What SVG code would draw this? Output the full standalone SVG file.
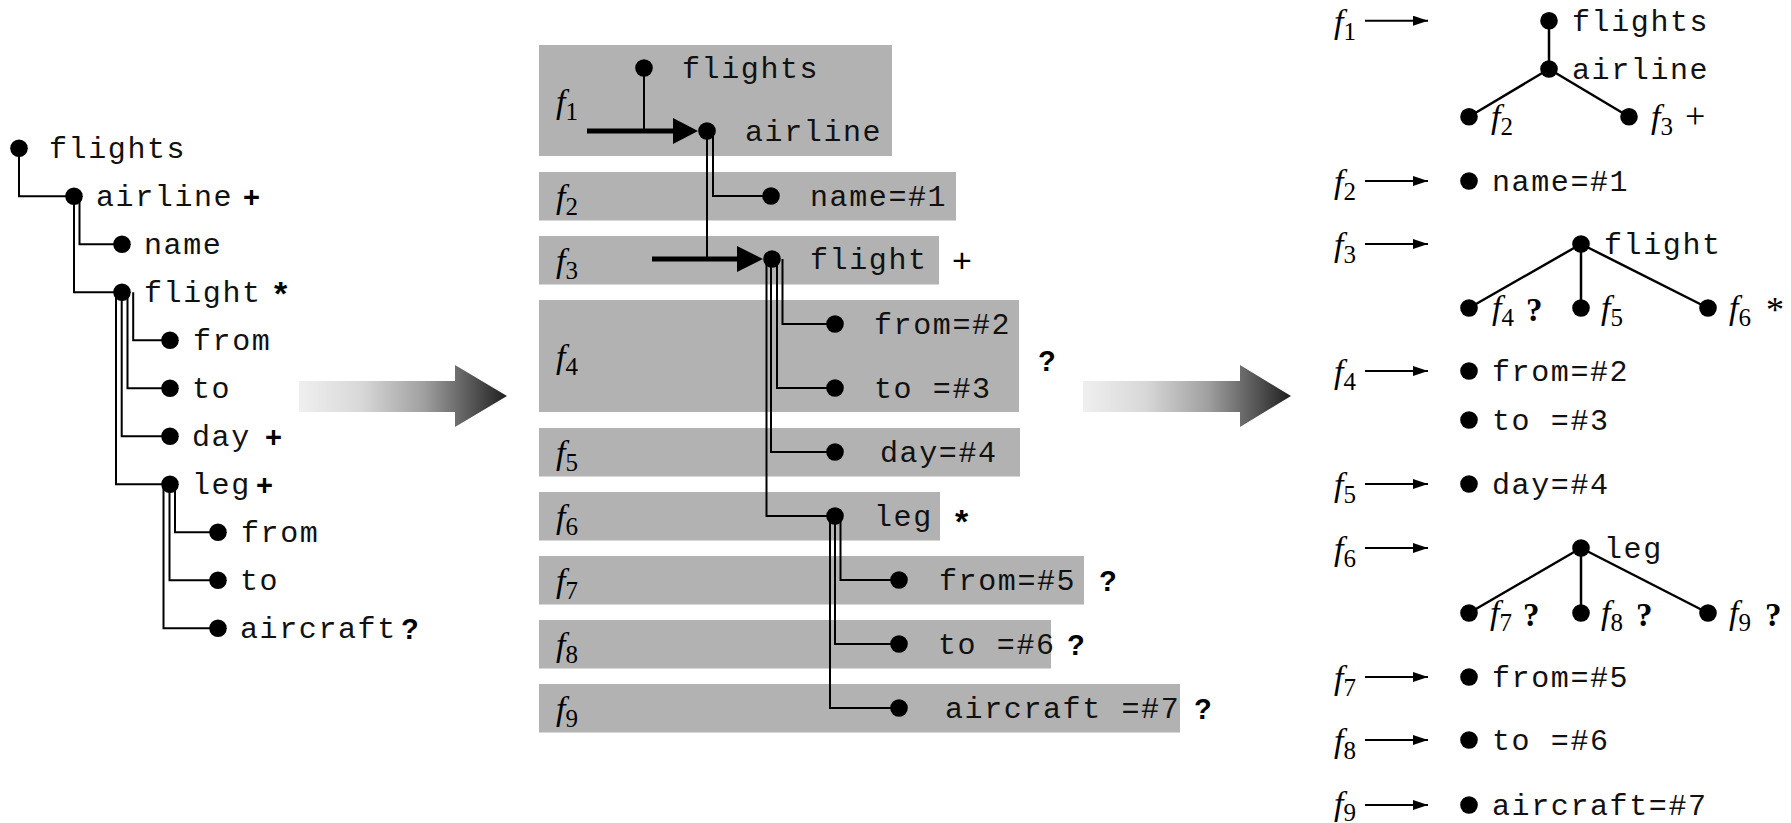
<svg xmlns="http://www.w3.org/2000/svg" width="1791" height="823" viewBox="0 0 1791 823">
<style>
.mono{font-family:"Liberation Mono","Courier New",monospace;font-size:30px;letter-spacing:1.6px;fill:#111}
.fi{font-family:"Liberation Serif","Times New Roman",serif;font-style:italic;font-size:34px;fill:#000}
.sub{font-style:normal;font-size:25px}
.mk{font-family:"Liberation Sans",Arial,sans-serif;font-weight:bold;font-size:29px;fill:#000}
.mkst{font-family:"Liberation Sans",Arial,sans-serif;font-weight:bold;font-size:34px;fill:#000}
.mkr{font-family:"Liberation Sans",Arial,sans-serif;font-size:34px;fill:#000}
.mks{font-family:"Liberation Serif","Times New Roman",serif;font-size:36px;fill:#000}
.mksb{font-family:"Liberation Serif","Times New Roman",serif;font-weight:bold;font-size:33px;fill:#000}
.ln{stroke:#000;stroke-width:2;fill:none}
.tl{stroke:#000;stroke-width:2.5;fill:none}
.thick{stroke:#000;stroke-width:5;fill:none}
.box{fill:#b2b2b2}
.dot{fill:#000}
.ar{stroke:#000;stroke-width:2;fill:none;marker-end:url(#ah)}
</style>
<defs>
<linearGradient id="grad" x1="0" y1="0" x2="1" y2="0">
<stop offset="0" stop-color="#efefef"/>
<stop offset="0.3" stop-color="#d8d8d8"/>
<stop offset="0.6" stop-color="#a0a0a0"/>
<stop offset="0.8" stop-color="#606060"/>
<stop offset="1" stop-color="#202020"/>
</linearGradient>
<marker id="ah" markerUnits="userSpaceOnUse" markerWidth="16" markerHeight="10" refX="15" refY="5" orient="auto">
<path d="M0,0 L15,5 L0,10 z" fill="#000"/>
</marker>
</defs>

<!-- big transformation arrows -->
<g id="bigarrows">
<polygon points="299,381 455,381 455,365 507,396 455,427 455,412 299,412" fill="url(#grad)"/>
<polygon points="1083,381 1240,381 1240,365 1291,396 1240,427 1240,412 1083,412" fill="url(#grad)"/>
</g>

<!-- LEFT TREE -->
<g id="left-connectors">
<path class="ln" d="M19,148.3 V196.3 H74"/>
<path class="ln" d="M74,196.3 V292.3 H122"/>
<path class="ln" d="M79.5,196.3 V244.3 H122"/>
<path class="ln" d="M116,292.3 V484.3 H170"/>
<path class="ln" d="M121.7,292.3 V436.3 H170"/>
<path class="ln" d="M127.5,292.3 V388.3 H170"/>
<path class="ln" d="M133.2,292.3 V340.3 H170"/>
<path class="ln" d="M163.5,484.3 V628.3 H218"/>
<path class="ln" d="M169.5,484.3 V580.3 H218"/>
<path class="ln" d="M175,484.3 V532.3 H218"/>
</g>
<g id="l-flights"><circle class="dot" cx="19" cy="148.3" r="8.8"/><text class="mono" x="49" y="158">flights</text></g>
<g id="l-airline"><circle class="dot" cx="74" cy="196.3" r="8.8"/><text class="mono" x="96" y="206">airline</text><text class="mk" x="243" y="206.5">+</text></g>
<g id="l-name"><circle class="dot" cx="122" cy="244.3" r="8.8"/><text class="mono" x="144" y="254">name</text></g>
<g id="l-flight"><circle class="dot" cx="122" cy="292.3" r="8.8"/><text class="mono" x="144" y="302">flight</text><text class="mkst" x="274" y="305">*</text></g>
<g id="l-from"><circle class="dot" cx="170" cy="340.3" r="8.8"/><text class="mono" x="193" y="350">from</text></g>
<g id="l-to"><circle class="dot" cx="170" cy="388.3" r="8.8"/><text class="mono" x="192" y="398">to</text></g>
<g id="l-day"><circle class="dot" cx="170" cy="436.3" r="8.8"/><text class="mono" x="192" y="446">day</text><text class="mk" x="265" y="446.5">+</text></g>
<g id="l-leg"><circle class="dot" cx="170" cy="484.3" r="8.8"/><text class="mono" x="192" y="494">leg</text><text class="mk" x="256" y="494.5">+</text></g>
<g id="l-from2"><circle class="dot" cx="218" cy="532.3" r="8.8"/><text class="mono" x="241" y="542">from</text></g>
<g id="l-to2"><circle class="dot" cx="218" cy="580.3" r="8.8"/><text class="mono" x="240" y="590">to</text></g>
<g id="l-aircraft"><circle class="dot" cx="218" cy="628.3" r="8.8"/><text class="mono" x="240" y="638">aircraft</text><text class="mk" x="401" y="639">?</text></g>

<!-- MIDDLE: fragment boxes -->
<g id="m-boxes">
<g id="box-f1"><rect class="box" x="539" y="45" width="353" height="111"/><text class="fi" x="556" y="112.5">f<tspan class="sub" dy="7">1</tspan></text></g>
<g id="box-f2"><rect class="box" x="539" y="172" width="417" height="48.5"/><text class="fi" x="556" y="208">f<tspan class="sub" dy="7">2</tspan></text></g>
<g id="box-f3"><rect class="box" x="539" y="236" width="400" height="48.5"/><text class="fi" x="556" y="272">f<tspan class="sub" dy="7">3</tspan></text></g>
<g id="box-f4"><rect class="box" x="539" y="300" width="480" height="112"/><text class="fi" x="556" y="368">f<tspan class="sub" dy="7">4</tspan></text></g>
<g id="box-f5"><rect class="box" x="539" y="428" width="481" height="48.5"/><text class="fi" x="556" y="464">f<tspan class="sub" dy="7">5</tspan></text></g>
<g id="box-f6"><rect class="box" x="539" y="492" width="401" height="48.5"/><text class="fi" x="556" y="528">f<tspan class="sub" dy="7">6</tspan></text></g>
<g id="box-f7"><rect class="box" x="539" y="556" width="545" height="48.5"/><text class="fi" x="556" y="592">f<tspan class="sub" dy="7">7</tspan></text></g>
<g id="box-f8"><rect class="box" x="539" y="620" width="512" height="48.5"/><text class="fi" x="556" y="656">f<tspan class="sub" dy="7">8</tspan></text></g>
<g id="box-f9"><rect class="box" x="539" y="684" width="641" height="48.5"/><text class="fi" x="556" y="720">f<tspan class="sub" dy="7">9</tspan></text></g>
</g>
<g id="m-connectors">
<path class="ln" d="M644,68 V131"/>
<path class="thick" d="M587,131 H676"/>
<polygon points="673,118 698,131 673,144" fill="#000"/>
<path class="ln" d="M707,131 V259"/>
<path class="ln" d="M713,131 V196 H771"/>
<path class="thick" d="M652,259 H740"/>
<polygon points="737,246 763,259 737,272" fill="#000"/>
<path class="ln" d="M766.5,259 V516 H835"/>
<path class="ln" d="M771,259 V452 H835"/>
<path class="ln" d="M777,259 V388 H835"/>
<path class="ln" d="M782.5,259 V324 H835"/>
<path class="ln" d="M830,516 V708 H899"/>
<path class="ln" d="M835,516 V644 H899"/>
<path class="ln" d="M840.5,516 V580 H899"/>
</g>
<g id="m-flights"><circle class="dot" cx="644" cy="68" r="8.8"/><text class="mono" x="682" y="78">flights</text></g>
<g id="m-airline"><circle class="dot" cx="707" cy="131" r="8.8"/><text class="mono" x="745" y="141">airline</text></g>
<g id="m-name"><circle class="dot" cx="771" cy="196" r="8.8"/><text class="mono" x="810" y="206">name=#1</text></g>
<g id="m-flight"><circle class="dot" cx="772" cy="259" r="8.8"/><text class="mono" x="810" y="269">flight</text><text class="mkr" x="952" y="272">+</text></g>
<g id="m-from"><circle class="dot" cx="835" cy="324" r="8.8"/><text class="mono" x="874" y="334">from=#2</text></g>
<g id="m-to"><circle class="dot" cx="835" cy="388" r="8.8"/><text class="mono" x="874" y="398">to =#3</text></g>
<text class="mk" x="1038" y="371">?</text>
<g id="m-day"><circle class="dot" cx="835" cy="452" r="8.8"/><text class="mono" x="880" y="462">day=#4</text></g>
<g id="m-leg"><circle class="dot" cx="835" cy="516" r="8.8"/><text class="mono" x="874" y="526">leg</text><text class="mkst" x="955" y="533">*</text></g>
<g id="m-from5"><circle class="dot" cx="899" cy="580" r="8.8"/><text class="mono" x="939" y="590">from=#5</text><text class="mk" x="1099" y="591">?</text></g>
<g id="m-to6"><circle class="dot" cx="899" cy="644" r="8.8"/><text class="mono" x="938" y="654">to =#6</text><text class="mk" x="1067" y="655">?</text></g>
<g id="m-aircraft"><circle class="dot" cx="899" cy="708" r="8.8"/><text class="mono" x="945" y="718">aircraft =#7</text><text class="mk" x="1194" y="719">?</text></g>

<!-- RIGHT: fragment definitions -->
<g id="r-arrows">
<path class="ar" d="M1365,20.7 H1428"/>
<path class="ar" d="M1365,181 H1428"/>
<path class="ar" d="M1365,244 H1428"/>
<path class="ar" d="M1365,371 H1428"/>
<path class="ar" d="M1365,484 H1428"/>
<path class="ar" d="M1365,548 H1428"/>
<path class="ar" d="M1365,677 H1428"/>
<path class="ar" d="M1365,740 H1428"/>
<path class="ar" d="M1365,805 H1428"/>
</g>
<g id="r-labels">
<text class="fi" x="1334" y="32.7">f<tspan class="sub" dy="7">1</tspan></text>
<text class="fi" x="1334" y="193">f<tspan class="sub" dy="7">2</tspan></text>
<text class="fi" x="1334" y="256">f<tspan class="sub" dy="7">3</tspan></text>
<text class="fi" x="1334" y="383">f<tspan class="sub" dy="7">4</tspan></text>
<text class="fi" x="1334" y="496">f<tspan class="sub" dy="7">5</tspan></text>
<text class="fi" x="1334" y="560">f<tspan class="sub" dy="7">6</tspan></text>
<text class="fi" x="1334" y="689">f<tspan class="sub" dy="7">7</tspan></text>
<text class="fi" x="1334" y="752">f<tspan class="sub" dy="7">8</tspan></text>
<text class="fi" x="1334" y="815">f<tspan class="sub" dy="6">9</tspan></text>
</g>
<g id="r-tree1-connectors">
<path class="tl" d="M1549,20.7 V69 M1549,69 L1469,116.7 M1549,69 L1629,116.7"/>
</g>
<g id="r-f1">
<circle class="dot" cx="1549" cy="20.7" r="8.8"/><text class="mono" x="1572" y="30.5">flights</text>
<circle class="dot" cx="1549" cy="69" r="8.8"/><text class="mono" x="1572" y="79">airline</text>
<circle class="dot" cx="1469" cy="116.7" r="8.8"/><text class="fi" x="1491" y="127.7">f<tspan class="sub" dy="7">2</tspan></text>
<circle class="dot" cx="1629" cy="116.7" r="8.8"/><text class="fi" x="1651" y="127.7">f<tspan class="sub" dy="7">3</tspan></text><text class="mks" x="1685" y="128">+</text>
</g>
<g id="r-f2"><circle class="dot" cx="1469" cy="181" r="8.8"/><text class="mono" x="1492" y="191">name=#1</text></g>
<g id="r-tree3-connectors">
<path class="tl" d="M1581,244 L1469,308 M1581,244 V308 M1581,244 L1708,308"/>
</g>
<g id="r-f3">
<circle class="dot" cx="1581" cy="244" r="8.8"/><text class="mono" x="1604" y="254">flight</text>
<circle class="dot" cx="1469" cy="308" r="8.8"/><text class="fi" x="1492" y="319">f<tspan class="sub" dy="7">4</tspan></text><text class="mksb" x="1526" y="321">?</text>
<circle class="dot" cx="1581" cy="308" r="8.8"/><text class="fi" x="1601" y="319">f<tspan class="sub" dy="7">5</tspan></text>
<circle class="dot" cx="1708" cy="308" r="8.8"/><text class="fi" x="1729" y="319">f<tspan class="sub" dy="7">6</tspan></text><text class="mks" x="1766" y="322">*</text>
</g>
<g id="r-f4">
<circle class="dot" cx="1469" cy="371" r="8.8"/><text class="mono" x="1492" y="381">from=#2</text>
<circle class="dot" cx="1469" cy="420" r="8.8"/><text class="mono" x="1492" y="430">to =#3</text>
</g>
<g id="r-f5"><circle class="dot" cx="1469" cy="484" r="8.8"/><text class="mono" x="1492" y="494">day=#4</text></g>
<g id="r-tree6-connectors">
<path class="tl" d="M1581,548 L1469,613 M1581,548 V613 M1581,548 L1708,613"/>
</g>
<g id="r-f6">
<circle class="dot" cx="1581" cy="548" r="8.8"/><text class="mono" x="1604" y="558">leg</text>
<circle class="dot" cx="1469" cy="613" r="8.8"/><text class="fi" x="1490" y="624">f<tspan class="sub" dy="7">7</tspan></text><text class="mksb" x="1523" y="626">?</text>
<circle class="dot" cx="1581" cy="613" r="8.8"/><text class="fi" x="1601" y="624">f<tspan class="sub" dy="7">8</tspan></text><text class="mksb" x="1636" y="626">?</text>
<circle class="dot" cx="1708" cy="613" r="8.8"/><text class="fi" x="1729" y="624">f<tspan class="sub" dy="7">9</tspan></text><text class="mksb" x="1765" y="626">?</text>
</g>
<g id="r-f7"><circle class="dot" cx="1469" cy="677" r="8.8"/><text class="mono" x="1492" y="687">from=#5</text></g>
<g id="r-f8"><circle class="dot" cx="1469" cy="740" r="8.8"/><text class="mono" x="1492" y="750">to =#6</text></g>
<g id="r-f9"><circle class="dot" cx="1469" cy="805" r="8.8"/><text class="mono" x="1492" y="815">aircraft=#7</text></g>
</svg>
